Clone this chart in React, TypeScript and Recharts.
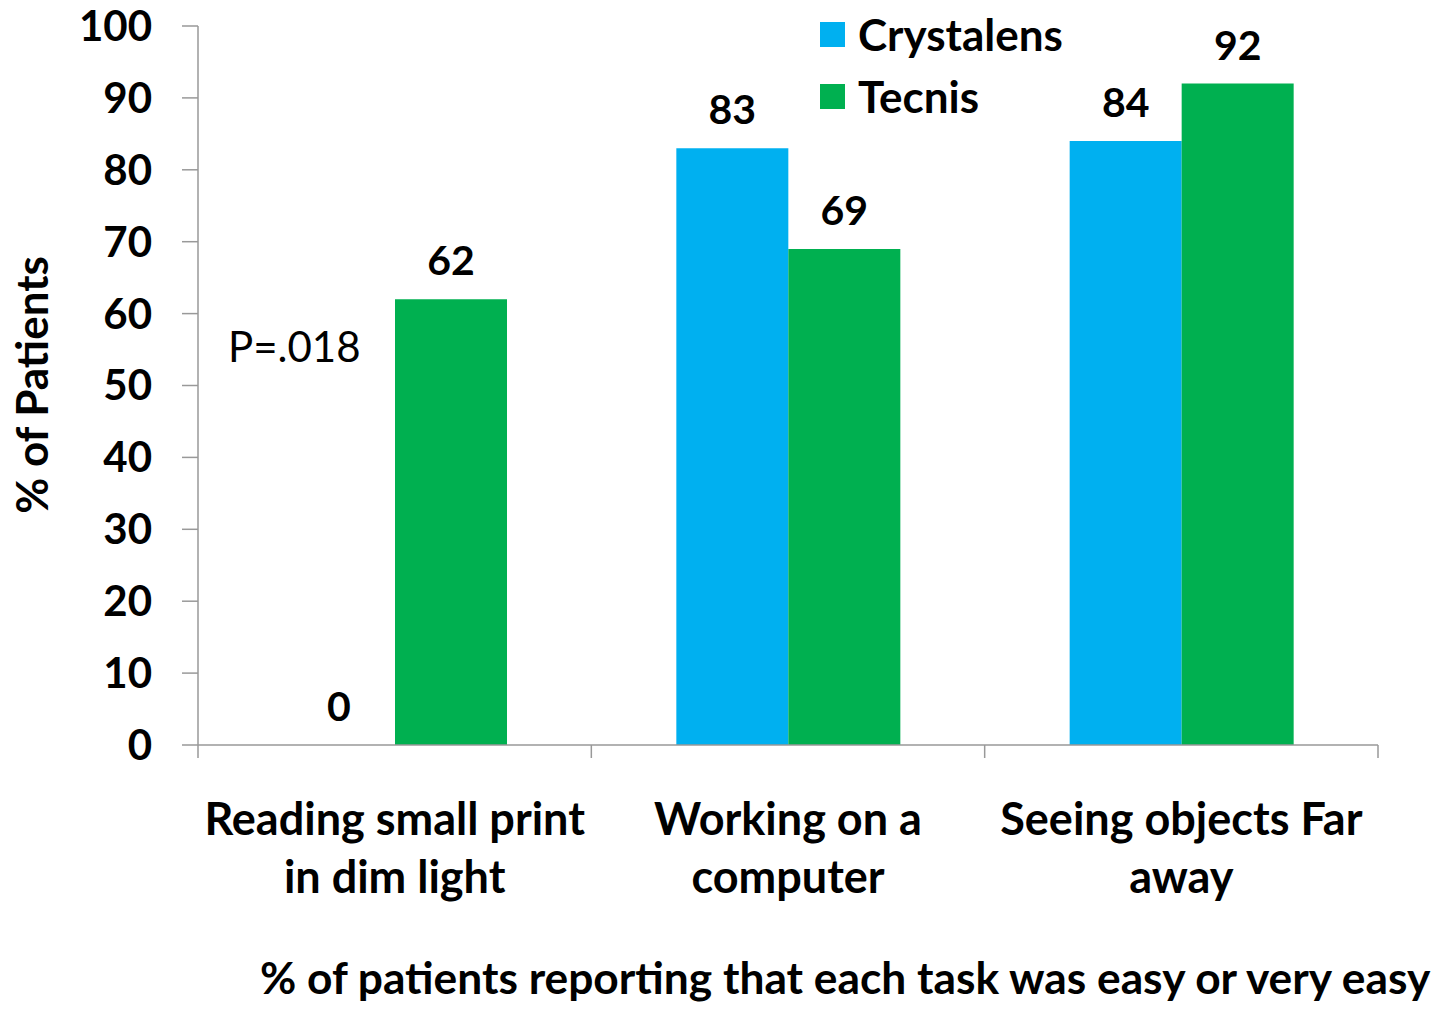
import { Bar, BarChart, LabelList, XAxis, YAxis } from 'recharts'

const categories = [
  'Reading small print in dim light',
  'Working on a computer',
  'Seeing objects Far away',
]
const categoryLines = [
  ['Reading small print', 'in dim light'],
  ['Working on a', 'computer'],
  ['Seeing objects Far', 'away'],
]
const crystalens = [0, 83, 84]
const tecnis = [62, 69, 92]
const yTicks = [0, 10, 20, 30, 40, 50, 60, 70, 80, 90, 100]

const data = categories.map((name, i) => ({
  name,
  Crystalens: crystalens[i],
  Tecnis: tecnis[i],
}))

const BLUE = '#00B0F0'
const GREEN = '#00B050'
const AXIS = '#999999'
const FONT = 'Lato, "Open Sans", sans-serif'

const W = 1449
const H = 1002
const MARGIN = { top: 26, right: 71, left: 0, bottom: 0 }
const Y_WIDTH = 198
const PLOT_W = W - MARGIN.left - MARGIN.right - Y_WIDTH
const TICK = 13

function CategoryTick(props: any) {
  const { x, y, index } = props
  const band = PLOT_W / categories.length
  const axisY = y - TICK
  const lines = categoryLines[index] || []
  return (
    <g>
      <line x1={x - band / 2} x2={x - band / 2} y1={axisY} y2={axisY + TICK} stroke={AXIS} strokeWidth={1.5} />
      {index === categories.length - 1 && (
        <line x1={x + band / 2} x2={x + band / 2} y1={axisY} y2={axisY + TICK} stroke={AXIS} strokeWidth={1.5} />
      )}
      <text x={x} y={axisY + 90} textAnchor="middle" fontFamily={FONT} fontWeight={700} fontSize={45} fill="#000">
        {lines.map((l, i) => (
          <tspan key={i} x={x} dy={i === 0 ? 0 : 58}>
            {l}
          </tspan>
        ))}
      </text>
    </g>
  )
}

function ValueLabel(props: any) {
  const { x, y, width, value } = props
  return (
    <text x={x + width / 2} y={y - 24} textAnchor="middle" fontFamily={FONT} fontWeight={700} fontSize={41} fill="#000">
      {value}
    </text>
  )
}

const legendItems = [
  { name: 'Crystalens', color: BLUE },
  { name: 'Tecnis', color: GREEN },
]

export default function App() {
  return (
    <div style={{ position: 'relative', width: W, height: H, margin: '-8px 0 0 -8px', background: '#fff' }}>
      <BarChart width={W} height={H} data={data} margin={MARGIN} barGap={0} barSize={112}>
        <XAxis
          dataKey="name"
          height={H - 745}
          axisLine={{ stroke: AXIS, strokeWidth: 1.5 }}
          tickLine={false}
          tickSize={TICK}
          tickMargin={0}
          tick={<CategoryTick />}
          interval={0}
        />
        <YAxis
          width={Y_WIDTH}
          domain={[0, 100]}
          ticks={yTicks}
          interval={0}
          axisLine={{ stroke: AXIS, strokeWidth: 1.5 }}
          tickLine={{ stroke: AXIS, strokeWidth: 1.5 }}
          tickSize={16}
          tickMargin={30}
          tick={{ fontFamily: FONT, fontWeight: 700, fontSize: 42, fill: '#000' }}
          label={{
            content: () => (
              <text
                transform="translate(48, 385) rotate(-90)"
                textAnchor="middle"
                fontFamily={FONT}
                fontWeight={700}
                fontSize={44}
                fill="#000"
              >
                % of Patients
              </text>
            ),
          }}
        />
        <Bar dataKey="Crystalens" fill={BLUE} minPointSize={0.01} isAnimationActive={false}>
          <LabelList dataKey="Crystalens" content={<ValueLabel />} />
        </Bar>
        <Bar dataKey="Tecnis" fill={GREEN} minPointSize={0.01} isAnimationActive={false}>
          <LabelList dataKey="Tecnis" content={<ValueLabel />} />
        </Bar>
      </BarChart>
      <div style={{ position: 'absolute', left: 820, top: 3, fontFamily: FONT, fontWeight: 700, fontSize: 44 }}>
        {legendItems.map((it) => (
          <div key={it.name} style={{ display: 'flex', alignItems: 'center', height: 62 }}>
            <span style={{ width: 25, height: 25, background: it.color, marginRight: 13 }} />
            <span>{it.name}</span>
          </div>
        ))}
      </div>
      <div
        style={{
          position: 'absolute',
          left: 228,
          top: 321,
          fontFamily: FONT,
          fontSize: 42,
          color: '#000',
        }}
      >
        P=.018
      </div>
      <div
        style={{
          position: 'absolute',
          left: 260,
          top: 952,
          lineHeight: '50px',
          fontFamily: FONT,
          fontWeight: 700,
          fontSize: 44.3,
          color: '#000',
          whiteSpace: 'nowrap',
        }}
      >
        % of patients reporting that each task was easy or very easy
      </div>
    </div>
  )
}
